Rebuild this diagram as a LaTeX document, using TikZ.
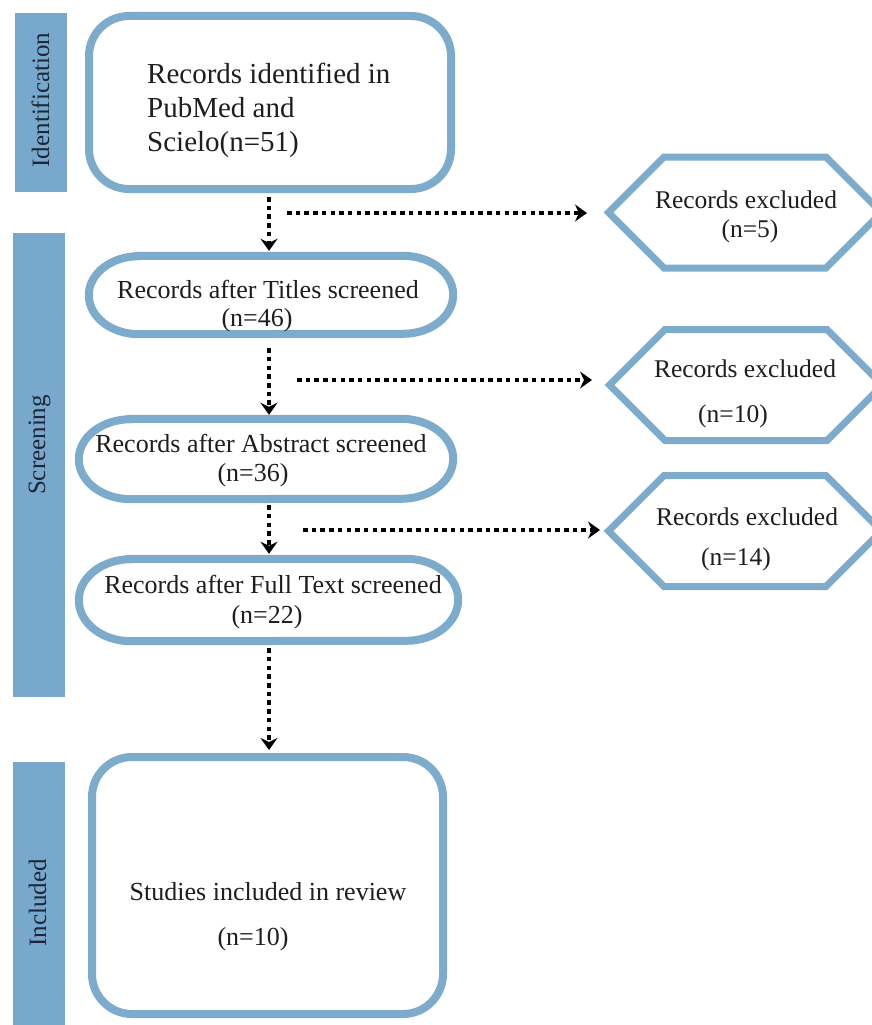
\documentclass[tikz,border=0pt]{standalone}
\usepackage{fontspec}
\setmainfont{Liberation Serif}
\usetikzlibrary{arrows.meta,calc}
\definecolor{barblue}{RGB}{120,168,203}
\definecolor{edgeblue}{RGB}{125,171,204}
\definecolor{txt}{RGB}{30,30,30}
\definecolor{labtxt}{RGB}{28,40,56}
\newcommand\drawstad[3]{% node name, x radius, y radius
  \draw[stadline] ($(#1.north west)+(#2,0)$) -- ($(#1.north east)+(-#2,0)$)
    arc[start angle=-90, end angle=90, x radius=#2, y radius=#3]
    -- ($(#1.south west)+(#2,0)$)
    arc[start angle=90, end angle=270, x radius=#2, y radius=#3] -- cycle;}
\begin{document}
\begin{tikzpicture}[x=1pt,y=-1pt,
  sidebar/.style={fill=barblue, draw=none, inner sep=0},
  sidelab/.style={rotate=90, anchor=base, text=labtxt, font=\fontsize{25}{30}\selectfont, inner sep=0},
  roundbox/.style={draw=edgeblue, line width=8pt, rounded corners=40pt, inner sep=0},
  stadium/.style={draw=none, inner sep=0},
  stadline/.style={draw=edgeblue, line width=8pt},
  hexline/.style={draw=edgeblue, line width=7pt, line join=miter},
  bodytxt/.style={anchor=base, text=txt, font=\fontsize{26}{30}\selectfont, inner sep=0},
  toptxt/.style={anchor=base west, text=txt, font=\fontsize{29}{35}\selectfont, inner sep=0},
  hextxt/.style={anchor=base, text=txt, font=\fontsize{25.5}{30}\selectfont, inner sep=0},
  flow/.style={line width=4.5pt, dash pattern=on 4.5pt off 4.2pt,
    -{Stealth[length=12pt,width=17pt,inset=4pt]}},
  hexa/.pic={
    \draw[hexline] (-136.5,0) -- (-81,-55.5) -- (81,-55.5) -- (136.5,0)
      -- (81,55.5) -- (-81,55.5) -- cycle;
    \coordinate (-w) at (-136.5,0);
  }
]
\useasboundingbox (0,0) rectangle (872,1025);
\clip (0,0) rectangle (872,1025);
\fill[white] (0,0) rectangle (872,1025);

% side bars
\node[sidebar, minimum width=52, minimum height=179] (idbar) at (41,102.5) {};
\node[sidebar, minimum width=52, minimum height=464] (scbar) at (39,465) {};
\node[sidebar, minimum width=52, minimum height=263] (inbar) at (39,893.5) {};
\node[sidelab] (idlab) at (49,100) {Identification};
\node[sidelab] (sclab) at (45,445) {Screening};
\node[sidelab] (inlab) at (46,903) {Included};

% main boxes
\node[roundbox, minimum width=362, minimum height=173] (idbox) at (270,102.5) {};
\node[stadium, minimum width=364, minimum height=78] (s1) at (271,295) {};
\node[stadium, minimum width=374, minimum height=80] (s2) at (266,459) {};
\node[stadium, minimum width=379, minimum height=82] (s3) at (268.5,600) {};
\node[roundbox, minimum width=351, minimum height=257] (inbox) at (267.5,885.5) {};
\drawstad{s1}{50}{39}
\drawstad{s2}{52}{40}
\drawstad{s3}{52}{41}

% hexagons
\pic (h1) at (745,212.5) {hexa};
\pic (h2) at (746,385) {hexa};
\pic (h3) at (745,531) {hexa};

% texts
\node[toptxt] (idt1) at (147,83) {Records identified in};
\node[toptxt] (idt2) at (147,117) {PubMed and};
\node[toptxt] (idt3) at (147,151) {Scielo(n=51)};
\node[bodytxt] (s1a) at (268,298) {Records after Titles screened};
\node[bodytxt] (s1b) at (257,326) {(n=46)};
\node[bodytxt] (s2a) at (261,452) {Records after Abstract screened};
\node[bodytxt] (s2b) at (253,481) {(n=36)};
\node[bodytxt] (s3a) at (273,593) {Records after Full Text screened};
\node[bodytxt] (s3b) at (267,623) {(n=22)};
\node[bodytxt] (inc1) at (268,900) {Studies included in review};
\node[bodytxt] (inc2) at (253,945) {(n=10)};
\node[hextxt] (h1a) at (746,208) {Records excluded};
\node[hextxt] (h1b) at (750,237) {(n=5)};
\node[hextxt] (h2a) at (745,377) {Records excluded};
\node[hextxt] (h2b) at (733,422) {(n=10)};
\node[hextxt] (h3a) at (747,525) {Records excluded};
\node[hextxt] (h3b) at (736,565) {(n=14)};

% connectors
\coordinate (axis) at (269,0);
\draw[flow, shorten <=4pt, shorten >=5pt] (idbox.south -| axis) -- (s1.north -| axis);
\draw[flow, shorten <=14pt, shorten >=4pt] (s1.south -| axis) -- (s2.north -| axis);
\draw[flow, shorten <=6pt, shorten >=5pt] (s2.south -| axis) -- (s3.north -| axis);
\draw[flow, shorten <=7pt, shorten >=3pt] (s3.south -| axis) -- (inbox.north -| axis);

\coordinate (e1s) at (287,213);
\coordinate (e2s) at (297,380);
\coordinate (e3s) at (303,530);
\draw[flow, shorten >=21.5pt] (e1s) -- (e1s -| h1-w);
\draw[flow, shorten >=17.5pt] (e2s) -- (e2s -| h2-w);
\draw[flow, shorten >=8.5pt] (e3s) -- (e3s -| h3-w);
\end{tikzpicture}
\end{document}
